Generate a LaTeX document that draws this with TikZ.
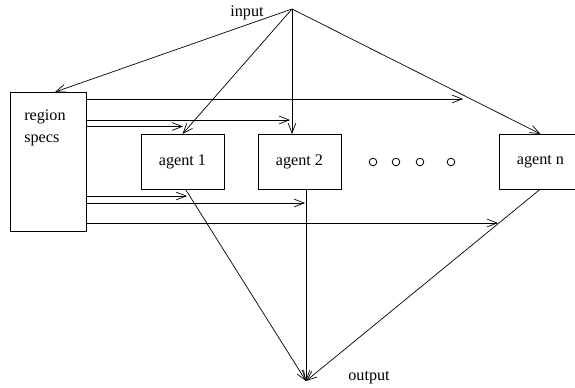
\documentclass[tikz,border=0pt]{standalone}
\usepackage{fontspec}
\setmainfont{Liberation Serif}
\usetikzlibrary{arrows.meta}

\begin{document}
\begin{tikzpicture}[x=0.025cm,y=-0.025cm]
\tikzset{
  box/.style={rectangle,draw=black,line width=0.6pt,inner sep=0pt,outer sep=0pt,font=\fontsize{11.5}{15}\selectfont},
  ag/.style={box,minimum width=2.075cm,minimum height=1.375cm},
  lbl/.style={inner sep=0pt,font=\fontsize{11.5}{15}\selectfont},
  dot/.style={circle,draw=black,line width=0.6pt,minimum size=0.19cm,inner sep=0pt},
  ar/.style={-{Straight Barb[length=7pt,width=5.5pt]},line width=0.5pt}
}
\clip (0,0) rectangle (575,388);
% sources and sinks
\coordinate (in) at (292,9);
\coordinate (out) at (306,381);
\node[lbl] (inlbl) at (247,13) {input};
\node[lbl] (outlbl) at (369,378) {output};
% region specs box
\node[box,minimum width=1.9cm,minimum height=3.475cm] (rs) at (48,161.5) {};
\node[lbl,align=left,anchor=north west] (rstext) at (24,110) {region\\specs};
% agents
\node[ag] (a1) at (182.5,161.5) {agent 1};
\node[ag] (a2) at (299.5,161.5) {agent 2};
\node[ag] (an) at (540.5,161.5) {agent n};
\foreach \x [count=\i] in {373,396,420,451}
  \node[dot] (c\i) at (\x,162) {};
% input fans out
\draw[ar] (in) -- (55,92);
\draw[ar] (in) -- (a1.north);
\draw[ar] (in) -- (in |- a2.north);
\draw[ar] (in) -- (an.north);
% region specs feeds
\coordinate (r1) at (463,99);
\coordinate (r2) at (290,120);
\coordinate (r3) at (183,126.5);
\coordinate (r4) at (187,196);
\coordinate (r5) at (305,203);
\coordinate (r6) at (498,223);
\foreach \r in {r1,r2,r3,r4,r5,r6}
  \draw[ar] (rs.east |- \r) -- (\r);
% agents to output
\draw[ar] ([xshift=2pt]a1.south) -- (out);
\draw[ar] (out |- a2.south) -- (out);
\draw[ar] (an.south) -- (out);
\end{tikzpicture}
\end{document}
